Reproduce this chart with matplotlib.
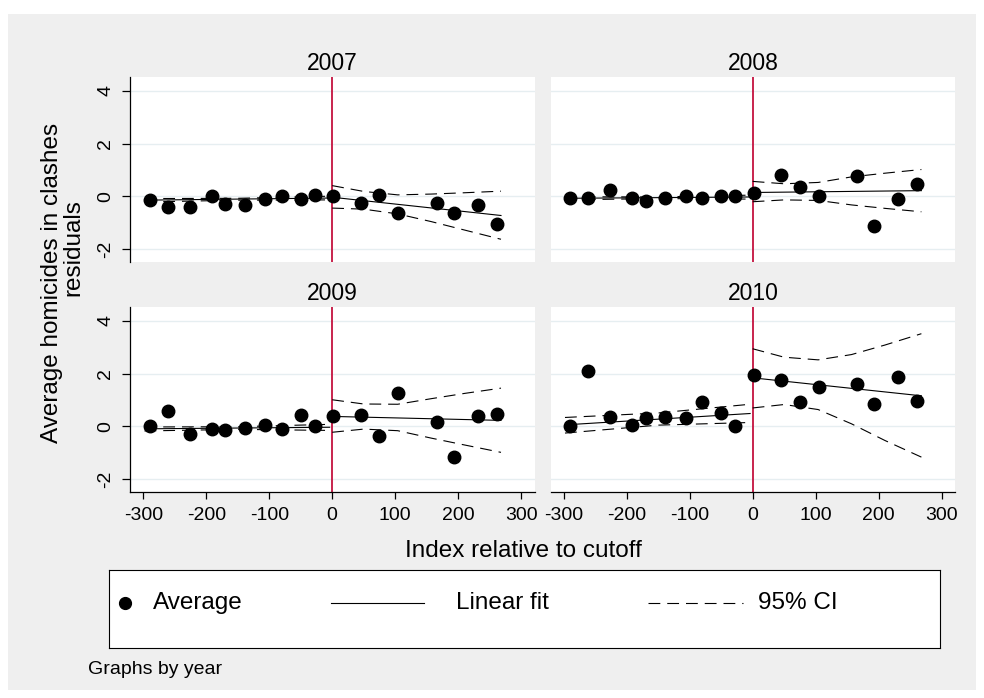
import matplotlib
matplotlib.use("Agg")
import matplotlib.pyplot as plt
from matplotlib.patches import Rectangle

plt.rcParams['font.family'] = ['Liberation Sans', 'DejaVu Sans']
plt.rcParams['lines.scale_dashes'] = False
plt.rcParams['axes.unicode_minus'] = False

# binned averages (same bins in every year)
x_bins = [-290, -261, -226, -191, -170, -139, -106, -80, -50, -28, 2, 45, 75, 105, 166, 193, 231, 261]
avg_2007 = [-0.13, -0.39, -0.39, 0.0, -0.29, -0.32, -0.10, 0.03, -0.09, 0.04, 0.0, -0.23, 0.06, -0.63, -0.25, -0.63, -0.34, -1.04]
avg_2008 = [-0.04, -0.04, 0.24, -0.04, -0.16, -0.04, 0.0, -0.04, 0.03, 0.03, 0.13, 0.80, 0.35, 0.03, 0.77, -1.11, -0.10, 0.48]
avg_2009 = [0.0, 0.59, -0.29, -0.09, -0.14, -0.06, 0.04, -0.09, 0.42, 0.01, 0.38, 0.42, -0.35, 1.27, 0.18, -1.14, 0.39, 0.46]
avg_2010 = [0.03, 2.08, 0.35, 0.05, 0.32, 0.35, 0.32, 0.92, 0.52, 0.03, 1.94, 1.77, 0.92, 1.48, 1.62, 0.85, 1.89, 0.96]

# linear fits, each side of the cutoff
fit_x_left = [-298, -4]
fit_x_right = [0, 268]
fit_left_2007 = [-0.14, -0.06]
fit_left_2008 = [-0.07, -0.02]
fit_left_2009 = [-0.09, -0.03]
fit_left_2010 = [0.06, 0.49]
fit_right_2007 = [-0.03, -0.72]
fit_right_2008 = [0.15, 0.22]
fit_right_2009 = [0.38, 0.23]
fit_right_2010 = [1.84, 1.16]

# 95% CI bounds read at a few x positions
ci_x_left = [-298, -150, -4]
ci_x_right = [0, 50, 104, 157, 210, 268]
ci_left_hi_2007 = [-0.08, -0.07, 0.01]
ci_left_lo_2007 = [-0.21, -0.14, -0.13]
ci_left_hi_2008 = [-0.01, -0.02, 0.05]
ci_left_lo_2008 = [-0.13, -0.08, -0.10]
ci_left_hi_2009 = [-0.02, -0.01, 0.08]
ci_left_lo_2009 = [-0.17, -0.11, -0.15]
ci_left_hi_2010 = [0.34, 0.51, 0.84]
ci_left_lo_2010 = [-0.25, 0.05, 0.15]
ci_right_hi_2007 = [0.41, 0.19, 0.06, 0.09, 0.14, 0.20]
ci_right_lo_2007 = [-0.44, -0.48, -0.66, -0.95, -1.27, -1.62]
ci_right_hi_2008 = [0.57, 0.48, 0.53, 0.74, 0.88, 1.02]
ci_right_lo_2008 = [-0.20, -0.13, -0.15, -0.32, -0.45, -0.58]
ci_right_hi_2009 = [1.01, 0.85, 0.84, 1.05, 1.25, 1.45]
ci_right_lo_2009 = [-0.22, -0.10, -0.16, -0.44, -0.70, -0.98]
ci_right_hi_2010 = [2.94, 2.62, 2.52, 2.72, 3.08, 3.51]
ci_right_lo_2010 = [0.70, 0.83, 0.64, 0.10, -0.53, -1.16]

years = ['2007', '2008', '2009', '2010']
avgs = [avg_2007, avg_2008, avg_2009, avg_2010]
fits_left = [fit_left_2007, fit_left_2008, fit_left_2009, fit_left_2010]
fits_right = [fit_right_2007, fit_right_2008, fit_right_2009, fit_right_2010]
cis_left = [(ci_left_hi_2007, ci_left_lo_2007), (ci_left_hi_2008, ci_left_lo_2008),
            (ci_left_hi_2009, ci_left_lo_2009), (ci_left_hi_2010, ci_left_lo_2010)]
cis_right = [(ci_right_hi_2007, ci_right_lo_2007), (ci_right_hi_2008, ci_right_lo_2008),
             (ci_right_hi_2009, ci_right_lo_2009), (ci_right_hi_2010, ci_right_lo_2010)]

W, H = 984, 698
fig = plt.figure(figsize=(W / 100, H / 100), dpi=100, facecolor='white')
fig.patches.append(Rectangle((8 / W, 1 - 690 / H), (976 - 8) / W, (690 - 14) / H,
                             transform=fig.transFigure, facecolor='#efefef',
                             edgecolor='none', zorder=-10))


def px_axes(l, t, r, b):
    return fig.add_axes([l / W, 1 - b / H, (r - l) / W, (b - t) / H])


boxes = [(130, 77, 535, 262), (550.5, 77, 955.4, 262),
         (130, 307, 535, 492), (550.5, 307, 955.4, 492)]
dash = (0, (8.5, 5))
red = '#c4123f'

for i, year in enumerate(years):
    ax = px_axes(*boxes[i])
    ax.set_facecolor('white')
    ax.set_xlim(-321, 322)
    ax.set_ylim(-2.48, 4.52)
    ax.set_yticks([-2, 0, 2, 4])
    ax.set_xticks(range(-300, 301, 100))
    ax.grid(axis='y', color='#e6eef1', lw=1.0)
    ax.set_axisbelow(True)
    for s in ['top', 'right']:
        ax.spines[s].set_visible(False)
    left_col = i % 2 == 0
    bottom_row = i >= 2
    ax.spines['left'].set_visible(left_col)
    ax.spines['bottom'].set_visible(bottom_row)
    for s in ['left', 'bottom']:
        ax.spines[s].set_linewidth(0.9)
    ax.tick_params(axis='y', left=left_col, labelleft=left_col, length=5.8,
                   width=0.9, pad=5.5, labelsize=14, labelrotation=90)
    ax.tick_params(axis='x', bottom=bottom_row, labelbottom=bottom_row, length=5,
                   width=0.9, pad=6, labelsize=14)
    for lab in ax.get_yticklabels():
        lab.set_va('center')

    ax.axvline(0, color=red, lw=1.3, zorder=1.5)
    hi, lo = cis_left[i]
    ax.plot(ci_x_left, hi, color='black', lw=0.8, linestyle=dash, zorder=2)
    ax.plot(ci_x_left, lo, color='black', lw=0.8, linestyle=dash, zorder=2)
    hi, lo = cis_right[i]
    ax.plot(ci_x_right, hi, color='black', lw=0.8, linestyle=dash, zorder=2)
    ax.plot(ci_x_right, lo, color='black', lw=0.8, linestyle=dash, zorder=2)
    ax.plot(fit_x_left, fits_left[i], color='black', lw=0.8, zorder=2)
    ax.plot(fit_x_right, fits_right[i], color='black', lw=0.8, zorder=2)
    ax.plot(x_bins, avgs[i], 'o', color='black', ms=9, zorder=3)
    ax.set_title(year, fontsize=16.5, pad=5)

# axis titles
fig.text(52 / W, 1 - 283 / H, 'Average homicides in clashes', rotation=90,
         ha='center', va='center', fontsize=17.5)
fig.text(73 / W, 1 - 248 / H, 'residuals', rotation=90,
         ha='center', va='center', fontsize=17.5)
fig.text(523 / W, 1 - 551 / H, 'Index relative to cutoff', ha='center',
         va='center', fontsize=17.5)

# legend box
lg = px_axes(108.6, 570, 940, 648.3)
lg.set_xlim(108.6, 940)
lg.set_ylim(648.3, 570)
lg.set_xticks([])
lg.set_yticks([])
lg.set_facecolor('white')
for s in lg.spines.values():
    s.set_linewidth(0.8)
lg.plot([125.5], [602.7], 'o', color='black', ms=8.5)
lg.text(152.5, 603, 'Average', va='center', fontsize=17.5)
lg.plot([331, 424], [602.7, 602.7], color='black', lw=0.8)
lg.text(456, 603, 'Linear fit', va='center', fontsize=17.5)
lg.plot([648, 742.6], [602.7, 602.7], color='black', lw=0.8, linestyle=dash)
lg.text(757.7, 603, '95% CI', va='center', fontsize=17.5)

fig.text(88 / W, 1 - 670 / H, 'Graphs by year', ha='left', va='center', fontsize=14)

fig.savefig('out.png', dpi=100)
